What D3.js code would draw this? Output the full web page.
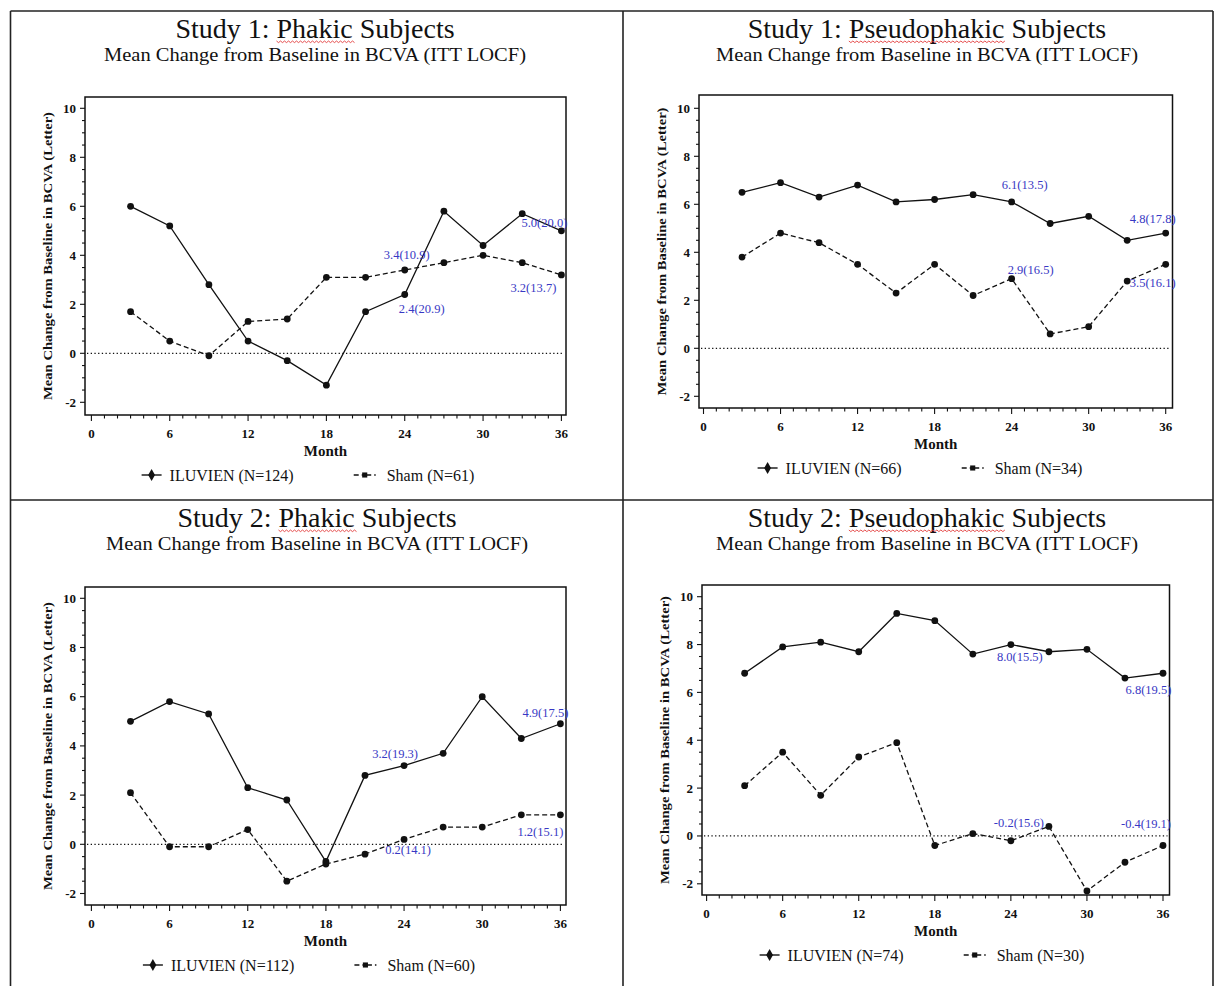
<!DOCTYPE html>
<html><head><meta charset="utf-8">
<script src="https://cdn.jsdelivr.net/npm/d3@7"></script>
<style>
html,body{margin:0;padding:0;background:#fff;}
svg{display:block;}
text{font-family:"Liberation Serif","Times New Roman",serif;}
</style></head><body>
<svg id="chart" width="1215" height="986"></svg>
<script>
// ---------------- DATA ----------------
const months = [3,6,9,12,15,18,21,24,27,30,33,36];
const xTicks = [0,6,12,18,24,30,36];
const yTicks = [-2,0,2,4,6,8,10];

const titles = ["Study 1: Phakic Subjects","Study 1: Pseudophakic Subjects","Study 2: Phakic Subjects","Study 2: Pseudophakic Subjects"];
const underlinedWords = ["Phakic","Pseudophakic","Phakic","Pseudophakic"];
const subtitle = "Mean Change from Baseline in BCVA (ITT LOCF)";
const yAxisTitle = "Mean Change from Baseline in BCVA (Letter)";
const xAxisTitle = "Month";

const iluvienS1Phakic = [6.0,5.2,2.8,0.5,-0.3,-1.3,1.7,2.4,5.8,4.4,5.7,5.0];
const shamS1Phakic    = [1.7,0.5,-0.1,1.3,1.4,3.1,3.1,3.4,3.7,4.0,3.7,3.2];
const iluvienS1Pseudo = [6.5,6.9,6.3,6.8,6.1,6.2,6.4,6.1,5.2,5.5,4.5,4.8];
const shamS1Pseudo    = [3.8,4.8,4.4,3.5,2.3,3.5,2.2,2.9,0.6,0.9,2.8,3.5];
const iluvienS2Phakic = [5.0,5.8,5.3,2.3,1.8,-0.7,2.8,3.2,3.7,6.0,4.3,4.9];
const shamS2Phakic    = [2.1,-0.1,-0.1,0.6,-1.5,-0.8,-0.4,0.2,0.7,0.7,1.2,1.2];
const iluvienS2Pseudo = [6.8,7.9,8.1,7.7,9.3,9.0,7.6,8.0,7.7,7.8,6.6,6.8];
const shamS2Pseudo    = [2.1,3.5,1.7,3.3,3.9,-0.4,0.1,-0.2,0.4,-2.3,-1.1,-0.4];

// SD shown in labels: [ILUVIEN month 24, ILUVIEN month 36, Sham month 24, Sham month 36]
const sdS1Phakic = [20.9,20.0,10.9,13.7];
const sdS1Pseudo = [13.5,17.8,16.5,16.1];
const sdS2Phakic = [19.3,17.5,14.1,15.1];
const sdS2Pseudo = [15.5,19.5,15.6,19.1];
const labelMonths = [24,36];

const legendIluvien = ["ILUVIEN (N=124)","ILUVIEN (N=66)","ILUVIEN (N=112)","ILUVIEN (N=74)"];
const legendSham    = ["Sham (N=61)","Sham (N=34)","Sham (N=60)","Sham (N=30)"];

// ---------------- LAYOUT ----------------
const panels = [
  {cellTop:11,  cx:315, legCx:308, frame:{l:85,r:566,t:97,b:415},  xr:[91.4,561.4], yr:[402.3,108.3],
   ilu:iluvienS1Phakic, sham:shamS1Phakic, sd:sdS1Phakic,
   offs:[[17,14],[-17,-7.5],[2,-15],[-28,13]]},
  {cellTop:11,  cx:927, legCx:920, frame:{l:699,r:1172.5,t:95,b:408}, xr:[703.5,1165.7], yr:[396.3,108.3],
   ilu:iluvienS1Pseudo, sham:shamS1Pseudo, sd:sdS1Pseudo,
   offs:[[13,-17],[-13,-14],[19,-9],[-13,19]]},
  {cellTop:500, cx:317, legCx:309, frame:{l:85,r:566,t:587,b:905}, xr:[91.4,560.4], yr:[893.5,598.3],
   ilu:iluvienS2Phakic, sham:shamS2Phakic, sd:sdS2Phakic,
   offs:[[-9,-12],[-15,-11],[4,11],[-20,17]]},
  {cellTop:500, cx:927, legCx:922, frame:{l:702,r:1169.5,t:585,b:895}, xr:[706.6,1163], yr:[883.8,596.7],
   ilu:iluvienS2Pseudo, sham:shamS2Pseudo, sd:sdS2Pseudo,
   offs:[[9,12.5],[-14.5,16.5],[8,-17.5],[-17,-22]]}
];

const svg = d3.select("#chart");
svg.append("rect").attr("width",1215).attr("height",986).attr("fill","#fff");

// table borders
const bd = svg.append("g").attr("stroke","#222").attr("stroke-width",1.6);
bd.append("line").attr("x1",10.5).attr("x2",1213).attr("y1",11).attr("y2",11);
bd.append("line").attr("x1",10.5).attr("x2",10.5).attr("y1",11).attr("y2",986);
bd.append("line").attr("x1",1213).attr("x2",1213).attr("y1",11).attr("y2",986);
bd.append("line").attr("x1",623).attr("x2",623).attr("y1",11).attr("y2",986);
bd.append("line").attr("x1",10.5).attr("x2",1213).attr("y1",500).attr("y2",500);

const blue = "#3838c4";

panels.forEach((p,i) => {
  const g = svg.append("g");
  const x = d3.scaleLinear().domain([0,36]).range(p.xr);
  const y = d3.scaleLinear().domain([-2,10]).range(p.yr);
  const f = p.frame;

  // Title
  const tY = p.cellTop + 26.5;
  const t = g.append("text").attr("x",p.cx).attr("y",tY)
    .attr("text-anchor","middle").attr("font-size",28).attr("fill","#111").text(titles[i]);
  // red spell-check squiggle under the word
  const node = t.node();
  const idx = titles[i].indexOf(underlinedWords[i]);
  const sx = node.getStartPositionOfChar(idx).x;
  const ex = node.getEndPositionOfChar(idx+underlinedWords[i].length-1).x;
  const by = tY + 3.5;
  let dpath = `M${sx},${by}`;
  for (let xx=sx, k=0; xx<ex; xx+=2, k++) dpath += `L${xx+2},${by + (k%2===0?1.6:0)}`;
  g.append("path").attr("d",dpath).attr("fill","none").attr("stroke","#e23a3a").attr("stroke-width",0.9);

  g.append("text").attr("x",p.cx).attr("y",p.cellTop+50)
    .attr("text-anchor","middle").attr("font-size",19).attr("fill","#111")
    .attr("textLength",422).attr("lengthAdjust","spacingAndGlyphs").text(subtitle);

  // frame
  g.append("rect").attr("x",f.l).attr("y",f.t).attr("width",f.r-f.l).attr("height",f.b-f.t)
    .attr("fill","none").attr("stroke","#111").attr("stroke-width",1.5);

  // x ticks
  const xMinor = d3.range(0,37,1);
  g.selectAll(null).data(xMinor).join("line")
    .attr("x1",d=>x(d)).attr("x2",d=>x(d)).attr("y1",f.b).attr("y2",d=> d%6===0 ? f.b+6 : f.b+3.5)
    .attr("stroke","#111").attr("stroke-width",1.1);
  g.selectAll(null).data(xTicks).join("text")
    .attr("x",d=>x(d)).attr("y",f.b+18).attr("text-anchor","middle").attr("dominant-baseline","central")
    .attr("font-size",13).attr("font-weight","bold").attr("fill","#111").text(d=>d);
  g.append("text").attr("x",(f.l+f.r)/2).attr("y",f.b+36).attr("text-anchor","middle")
    .attr("dominant-baseline","central").attr("font-size",15).attr("font-weight","bold").attr("fill","#111").text(xAxisTitle);

  // y ticks
  const yMinor = d3.range(-2,10.01,0.5);
  g.selectAll(null).data(yMinor).join("line")
    .attr("x1",f.l).attr("x2",d=> Math.abs(d%2)<1e-6 ? f.l-5 : f.l-3)
    .attr("y1",d=>y(d)).attr("y2",d=>y(d)).attr("stroke","#111").attr("stroke-width",1.1);
  g.selectAll(null).data(yTicks).join("text")
    .attr("x",f.l-9).attr("y",d=>y(d)).attr("text-anchor","end").attr("dominant-baseline","central")
    .attr("font-size",13).attr("font-weight","bold").attr("fill","#111").text(d=>d);
  const ly = (f.t+f.b)/2, lx = f.l-38;
  g.append("text").attr("transform",`translate(${lx},${ly}) rotate(-90)`)
    .attr("text-anchor","middle").attr("dominant-baseline","central")
    .attr("font-size",13).attr("font-weight","bold").attr("fill","#111")
    .attr("textLength",288).attr("lengthAdjust","spacingAndGlyphs").text(yAxisTitle);

  // zero reference line
  g.append("line").attr("x1",f.l+2).attr("x2",f.r-2).attr("y1",y(0)).attr("y2",y(0))
    .attr("stroke","#111").attr("stroke-width",1.3).attr("stroke-dasharray","1.3,2.4");

  const line = d3.line().x((d,j)=>x(months[j])).y(d=>y(d));
  g.append("path").attr("d",line(p.sham)).attr("fill","none").attr("stroke","#111")
    .attr("stroke-width",1.3).attr("stroke-dasharray","5,3");
  g.append("path").attr("d",line(p.ilu)).attr("fill","none").attr("stroke","#111").attr("stroke-width",1.3);

  [p.ilu,p.sham].forEach(s=>{
    g.selectAll(null).data(s).join("circle")
      .attr("cx",(d,j)=>x(months[j])).attr("cy",d=>y(d)).attr("r",3.4).attr("fill","#111");
  });

  // value labels
  const labels = [];
  labelMonths.forEach(m=>{ const j=months.indexOf(m); labels.push({m, v:p.ilu[j]}); });
  labelMonths.forEach(m=>{ const j=months.indexOf(m); labels.push({m, v:p.sham[j]}); });
  labels.forEach((L,k)=>{
    g.append("text").attr("x",x(L.m)+p.offs[k][0]).attr("y",y(L.v)+p.offs[k][1])
      .attr("text-anchor","middle").attr("dominant-baseline","central")
      .attr("font-size",12.5).attr("fill",blue)
      .text(`${L.v.toFixed(1)}(${p.sd[k].toFixed(1)})`);
  });

  // legend
  const lgY = f.b+60;
  const lg = g.append("g");
  const t1 = lg.append("text").attr("font-size",16).attr("fill","#111").attr("dominant-baseline","central").text(legendIluvien[i]);
  const t2 = lg.append("text").attr("font-size",16).attr("fill","#111").attr("dominant-baseline","central").text(legendSham[i]);
  const w1 = t1.node().getComputedTextLength(), w2 = t2.node().getComputedTextLength();
  const total = 20 + 8 + w1 + 60 + 22 + 11 + w2;
  let x0 = p.legCx - total/2;
  lg.append("line").attr("x1",x0).attr("x2",x0+20).attr("y1",lgY).attr("y2",lgY).attr("stroke","#111").attr("stroke-width",1.4);
  lg.append("path").attr("d",d3.symbol(d3.symbolDiamond,40)()).attr("transform",`translate(${x0+10},${lgY})`).attr("fill","#111");
  t1.attr("x",x0+28).attr("y",lgY);
  let x1 = x0+28+w1+60;
  lg.append("line").attr("x1",x1).attr("x2",x1+22).attr("y1",lgY).attr("y2",lgY).attr("stroke","#111")
    .attr("stroke-width",1.4).attr("stroke-dasharray","5,3,1.5,3");
  lg.append("path").attr("d",d3.symbol(d3.symbolSquare,26)()).attr("transform",`translate(${x1+11},${lgY})`).attr("fill","#111");
  t2.attr("x",x1+33).attr("y",lgY);
});
</script>
</body></html>
